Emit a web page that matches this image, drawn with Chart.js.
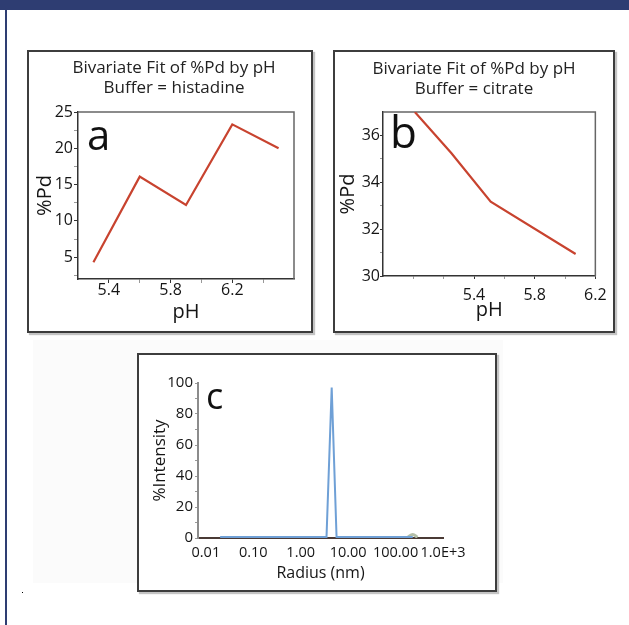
<!DOCTYPE html>
<html>
<head>
<meta charset="utf-8">
<script src="https://cdn.jsdelivr.net/npm/chart.js@4.4.1/dist/chart.umd.min.js"></script>
<style>
  body { margin:0; background:#fff; width:629px; height:625px; position:relative; overflow:hidden; }
  #header { position:absolute; left:0; top:0; width:629px; height:10px; background:#2e3d72; }
  #sidebar { position:absolute; left:5px; top:10px; width:2px; height:615px; background:#2e3d72; }
  #shade { position:absolute; left:33px; top:340px; width:470px; height:243px; background:#fbfbfb; }
  #dot { position:absolute; left:22px; top:592px; width:1px; height:1px; background:#000; }
  .panel { position:absolute; border:2px solid #3d3d3d; background:#fff; box-shadow:2px 2px 1px #c4c4c4; }
  .panel canvas { position:absolute; left:0; top:0; }
</style>
</head>
<body>
<div id="header"></div>
<div id="sidebar"></div>
<div id="shade"></div>
<div id="dot"></div>
<div class="panel" style="left:27px;top:50px;width:282px;height:279px"><canvas id="chartA" width="282" height="279"></canvas></div>
<div class="panel" style="left:333px;top:50px;width:278px;height:279px"><canvas id="chartB" width="278" height="279"></canvas></div>
<div class="panel" style="left:137px;top:353px;width:356px;height:235px"><canvas id="chartC" width="356" height="235"></canvas></div>

<script>
// panel a, histadine buffer
const phA      = [5.3, 5.6, 5.9, 6.2, 6.5];
const pdA      = [4.3, 16.1, 12.2, 23.3, 20.0];
const aYTicks  = [2.5, 5, 7.5, 10, 12.5, 15, 17.5, 20, 22.5, 25];
const aYLabels = ['5', '10', '15', '20', '25'];
const aXTicks  = [5.4, 5.6, 5.8, 6.0, 6.2, 6.4];
const aXLabels = ['5.4', '5.8', '6.2'];

// panel b, citrate buffer
const phB      = [5.01, 5.25, 5.51, 6.07];
const pdB      = [37.0, 35.25, 33.17, 30.94];
const bYTicks  = [30, 31, 32, 33, 34, 35, 36];
const bYLabels = ['30', '32', '34', '36'];
const bXTicks  = [5.0, 5.2, 5.4, 5.6, 5.8, 6.0, 6.2];
const bXLabels = ['5.4', '5.8', '6.2'];

// panel c, size distribution
const radiusC       = [0.02, 3.5, 4.5, 5.7, 230];
const intensityC    = [0.6, 0.6, 97, 0.6, 0.6];
const radiusBump    = [180, 230, 290];
const intensityBump = [0.5, 2.2, 0.5];
const cXTicks  = [0.01, 0.1, 1, 10, 100, 1000];
const cXLabels = ['0.01', '0.10', '1.00', '10.00', '100.00', '1.0E+3'];
const cYTicks  = [0, 10, 20, 30, 40, 50, 60, 70, 80, 90, 100];
const cYLabels = ['0', '20', '40', '60', '80', '100'];

Chart.defaults.font.family = '"Open Sans", sans-serif';
Chart.defaults.color = '#151515';
Chart.defaults.animation = false;

function toPoints(xs, ys) {
	return xs.map((x, i) => ({x: x, y: ys[i]}));
}
function intLabel(labels) {
	return v => (Number.isInteger(v) && labels.includes(String(v))) ? String(v) : '';
}
function decLabel(labels) {
	return v => labels.includes(v.toFixed(1)) ? v.toFixed(1) : '';
}
function fixedTicks(list) {
	return s => { s.ticks = list.map(v => ({value: v})); };
}
function majorColor(fmt) {
	return c => (c.tick && fmt(c.tick.value) !== '') ? '#333' : '#999';
}

const panelLetter = {
	id: 'panelLetter',
	afterDraw(chart, args, opts) {
		const ctx = chart.ctx, area = chart.chartArea;
		ctx.save();
		ctx.font = opts.size + 'px "Open Sans", sans-serif';
		ctx.fillStyle = '#111';
		ctx.textBaseline = 'alphabetic';
		ctx.fillText(opts.text, area.left + opts.dx, area.top + opts.dy);
		ctx.restore();
	}
};
const plotFrame = {
	id: 'plotFrame',
	beforeDatasetsDraw(chart, args, opts) {
		if (!opts.color) return;
		const ctx = chart.ctx, a = chart.chartArea;
		ctx.save();
		ctx.strokeStyle = opts.color;
		ctx.lineWidth = 1.5;
		ctx.beginPath();
		ctx.moveTo(a.left, a.top);
		ctx.lineTo(a.right, a.top);
		ctx.lineTo(a.right, a.bottom);
		ctx.stroke();
		ctx.restore();
	}
};

// padLeft only shifts the centred title, the y axis width takes up the rest
function fitChart(id, cfg) {
	const fmtX = cfg.xLabelFn, fmtY = cfg.yLabelFn;
	return new Chart(document.getElementById(id), {
		type: 'line',
		data: {
			datasets: [{
				data: cfg.points,
				borderColor: '#c8432f',
				borderWidth: 2.2,
				pointRadius: 0,
				tension: 0
			}]
		},
		options: {
			responsive: false,
			devicePixelRatio: 1,
			layout: {padding: {left: cfg.padLeft, right: cfg.padRight, top: 0, bottom: 0}},
			plugins: {
				legend: {display: false},
				tooltip: {enabled: false},
				title: {
					display: true,
					text: ['Bivariate Fit of %Pd by pH', cfg.buffer],
					color: '#222',
					font: {size: 17, weight: 'normal', lineHeight: 1.2},
					padding: {top: cfg.titleTop, bottom: 60 - 40.8 - cfg.titleTop}
				},
				panelLetter: cfg.letter,
				plotFrame: {color: '#666'}
			},
			scales: {
				x: {
					type: 'linear',
					min: cfg.xMin, max: cfg.xMax,
					afterBuildTicks: fixedTicks(cfg.xTicks),
					afterFit: s => { s.height = cfg.xHeight; },
					border: {color: '#333', width: 1.5},
					grid: {drawOnChartArea: false, tickLength: cfg.tick, tickColor: majorColor(fmtX)},
					ticks: {autoSkip: false, maxRotation: 0, padding: cfg.xPad, font: {size: 16}, callback: fmtX},
					title: {display: true, text: 'pH', font: {size: 20}, padding: {top: 0, bottom: cfg.xTitlePad}}
				},
				y: {
					min: cfg.yMin, max: cfg.yMax,
					afterBuildTicks: fixedTicks(cfg.yTicks),
					afterFit: s => { s.width = cfg.yWidth - cfg.padLeft; },
					border: {color: '#333', width: 1.5},
					grid: {drawOnChartArea: false, tickLength: cfg.tick, tickColor: majorColor(fmtY)},
					ticks: {autoSkip: false, padding: cfg.yPad, font: {size: 16}, callback: fmtY},
					title: {display: true, text: '%Pd', font: {size: 20}, padding: {top: cfg.yTitleX - cfg.padLeft - 12, bottom: 0}}
				}
			}
		},
		plugins: [panelLetter, plotFrame]
	});
}

fitChart('chartA', {
	points: toPoints(phA, pdA),
	buffer: 'Buffer = histadine',
	padLeft: 25, padRight: 17, titleTop: 6,
	xMin: 5.2, xMax: 6.6, xTicks: aXTicks, xLabelFn: decLabel(aXLabels),
	yMin: 2, yMax: 25, yTicks: aYTicks, yLabelFn: intLabel(aYLabels),
	xHeight: 52, yWidth: 49, tick: 4,
	xPad: -2, yPad: 1, xTitlePad: 7, yTitleX: 16,
	letter: {text: 'a', size: 42, dx: 9, dy: 38}
});

fitChart('chartB', {
	points: toPoints(phB, pdB),
	buffer: 'Buffer = citrate',
	padLeft: 15, padRight: 15, titleTop: 7,
	xMin: 4.8, xMax: 6.2, xTicks: bXTicks, xLabelFn: decLabel(bXLabels),
	yMin: 30, yMax: 37, yTicks: bYTicks, yLabelFn: intLabel(bYLabels),
	xHeight: 55, yWidth: 48, tick: 3,
	xPad: 6.4, yPad: 0, xTitlePad: 9, yTitleX: 13,
	letter: {text: 'b', size: 44, dx: 7, dy: 36}
});

const cYFmt = intLabel(cYLabels);
new Chart(document.getElementById('chartC'), {
	type: 'line',
	data: {
		datasets: [
			{data: toPoints(radiusC, intensityC), borderColor: '#6fa0d6', borderWidth: 2, pointRadius: 0, tension: 0},
			{data: toPoints(radiusBump, intensityBump), borderColor: '#b3bfa8', borderWidth: 3, pointRadius: 0, tension: 0.4}
		]
	},
	options: {
		responsive: false,
		devicePixelRatio: 1,
		layout: {padding: {left: 0, right: 52, top: 28, bottom: 0}},
		plugins: {
			legend: {display: false},
			tooltip: {enabled: false},
			panelLetter: {text: 'c', size: 36, dx: 8, dy: 26}
		},
		scales: {
			x: {
				type: 'logarithmic',
				min: 0.00683, max: 1000,
				afterBuildTicks: fixedTicks(cXTicks),
				afterFit: s => { s.height = 52; },
				border: {color: '#4a3a35', width: 2},
				grid: {drawOnChartArea: false, tickLength: 3, tickColor: 'rgba(0,0,0,0)'},
				ticks: {autoSkip: false, maxRotation: 0, padding: 3.6, font: {size: 14.5},
					callback: (v, i) => cXLabels[i]},
				title: {display: true, text: 'Radius (nm)', font: {size: 16}, padding: {top: 0, bottom: 7.4}}
			},
			y: {
				min: 0, max: 100,
				afterBuildTicks: fixedTicks(cYTicks),
				afterFit: s => { s.width = 59; },
				border: {color: '#8c8c8c', width: 2},
				grid: {drawOnChartArea: false, tickLength: 3, tickColor: '#999'},
				ticks: {autoSkip: false, padding: 2, font: {size: 15}, callback: cYFmt},
				title: {display: true, text: '%Intensity', font: {size: 17}, padding: {top: 10.8, bottom: 0}}
			}
		}
	},
	plugins: [panelLetter]
});
</script>
</body>
</html>
